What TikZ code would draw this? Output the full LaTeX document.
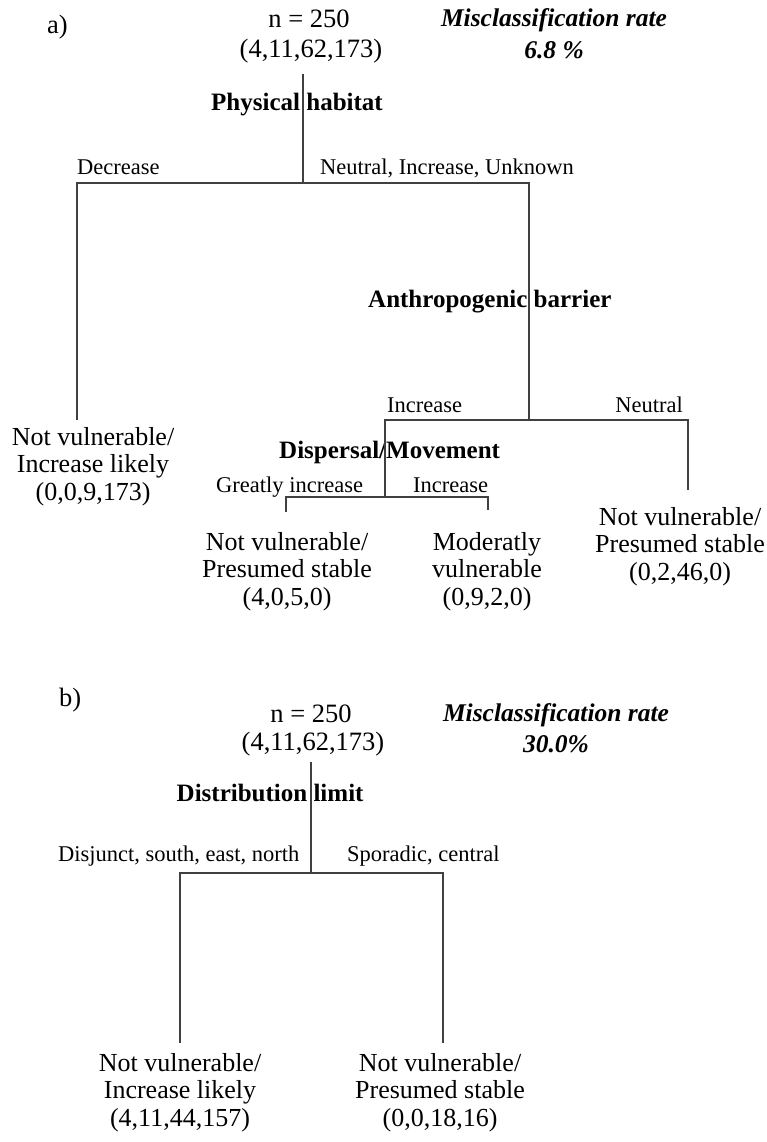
\documentclass[tikz,border=0pt]{standalone}
\usepackage{fontspec}
\setmainfont{Liberation Serif}
\begin{document}
\begin{tikzpicture}[x=1pt,y=-1pt,
  ln/.style={line width=1.5pt, draw=black!75},
  big/.style={font=\fontsize{26.5}{27.5}\selectfont, inner sep=0pt},
  leaf/.style={font=\fontsize{26}{27.5}\selectfont, inner sep=0pt, align=center, anchor=north},
  lab/.style={font=\fontsize{22.5}{26}\selectfont, inner sep=0pt},
  var/.style={font=\fontsize{25}{28}\selectfont\bfseries, inner sep=0pt, anchor=base west},
  mis/.style={font=\fontsize{25.5}{30}\selectfont\bfseries\itshape, inner sep=0pt, anchor=base},
]
\useasboundingbox (0,0) rectangle (767,1142);
% ---------- panel a ----------
\node[big, anchor=base west] (pa) at (47,34) {a)};
\node[big, anchor=base] (rootA1) at (309,28) {n = 250};
\node[big, anchor=base] (rootA2) at (311,58) {(4,11,62,173)};
\node[mis] (misA1) at (554,27) {Misclassification rate};
\node[mis] (misA2) at (554,59) {6.8 \%};
\node[var] (vA) at (211,111) {Physical habitat};
\node[lab, anchor=base west] (lDec) at (77,175) {Decrease};
\node[lab, anchor=base west] (lNIU) at (320,175) {Neutral, Increase, Unknown};
\node[var] (vB) at (368,307) {Anthropogenic barrier};
\node[lab, anchor=base west] (lInc1) at (387,412) {Increase};
\node[lab, anchor=base east] (lNeu) at (683,412) {Neutral};
\node[var] (vC) at (279,458) {Dispersal/Movement};
\node[lab, anchor=base west] (lGI) at (216,492) {Greatly increase};
\node[lab, anchor=base west] (lInc2) at (413,492) {Increase};

\node[leaf] (leafA1) at (93,427) {Not vulnerable/\\Increase likely\\(0,0,9,173)};
\node[leaf] (leafA2) at (287,532) {Not vulnerable/\\Presumed stable\\(4,0,5,0)};
\node[leaf] (leafA3) at (487,532) {Moderatly\\vulnerable\\(0,9,2,0)};
\node[leaf] (leafA4) at (680,507) {Not vulnerable/\\Presumed stable\\(0,2,46,0)};

\coordinate (a0) at (303,74);
\coordinate (a1) at (303,183);
\coordinate (aL) at (77,183);
\coordinate (aR) at (529,183);
\coordinate (aLb) at (77,420);
\coordinate (aRb) at (529,420);
\coordinate (bL) at (385,420);
\coordinate (bR) at (688,420);
\coordinate (bLb) at (385,497);
\coordinate (bRb) at (688,490);
\coordinate (cL) at (286,497);
\coordinate (cR) at (488,497);
\coordinate (cLb) at (286,512);
\coordinate (cRb) at (488,510);

\draw[ln] (a0) -- (a1);
\draw[ln] (aLb) -- (aL) -- (aR) -- (aRb);
\draw[ln] (bLb) -- (bL) -- (bR) -- (bRb);
\draw[ln] (cLb) -- (cL) -- (cR) -- (cRb);

% ---------- panel b ----------
\node[big, anchor=base west] (pb) at (59,706) {b)};
\node[big, anchor=base] (rootB1) at (311,722) {n = 250};
\node[big, anchor=base] (rootB2) at (313,750) {(4,11,62,173)};
\node[mis] (misB1) at (556,721) {Misclassification rate};
\node[mis] (misB2) at (556,752) {30.0\%};
\node[var] (vD) at (176.5,801) {Distribution limit};
\node[lab, anchor=base west] (lDis) at (58,861) {Disjunct, south, east, north};
\node[lab, anchor=base west] (lSpo) at (347,861) {Sporadic, central};

\node[leaf] (leafB1) at (180,1053) {Not vulnerable/\\Increase likely\\(4,11,44,157)};
\node[leaf] (leafB2) at (440,1053) {Not vulnerable/\\Presumed stable\\(0,0,18,16)};

\coordinate (d0) at (311,762);
\coordinate (d1) at (311,873);
\coordinate (dL) at (180,873);
\coordinate (dR) at (443,873);
\coordinate (dLb) at (180,1043);
\coordinate (dRb) at (443,1043);

\draw[ln] (d0) -- (d1);
\draw[ln] (dLb) -- (dL) -- (dR) -- (dRb);
\end{tikzpicture}
\end{document}
